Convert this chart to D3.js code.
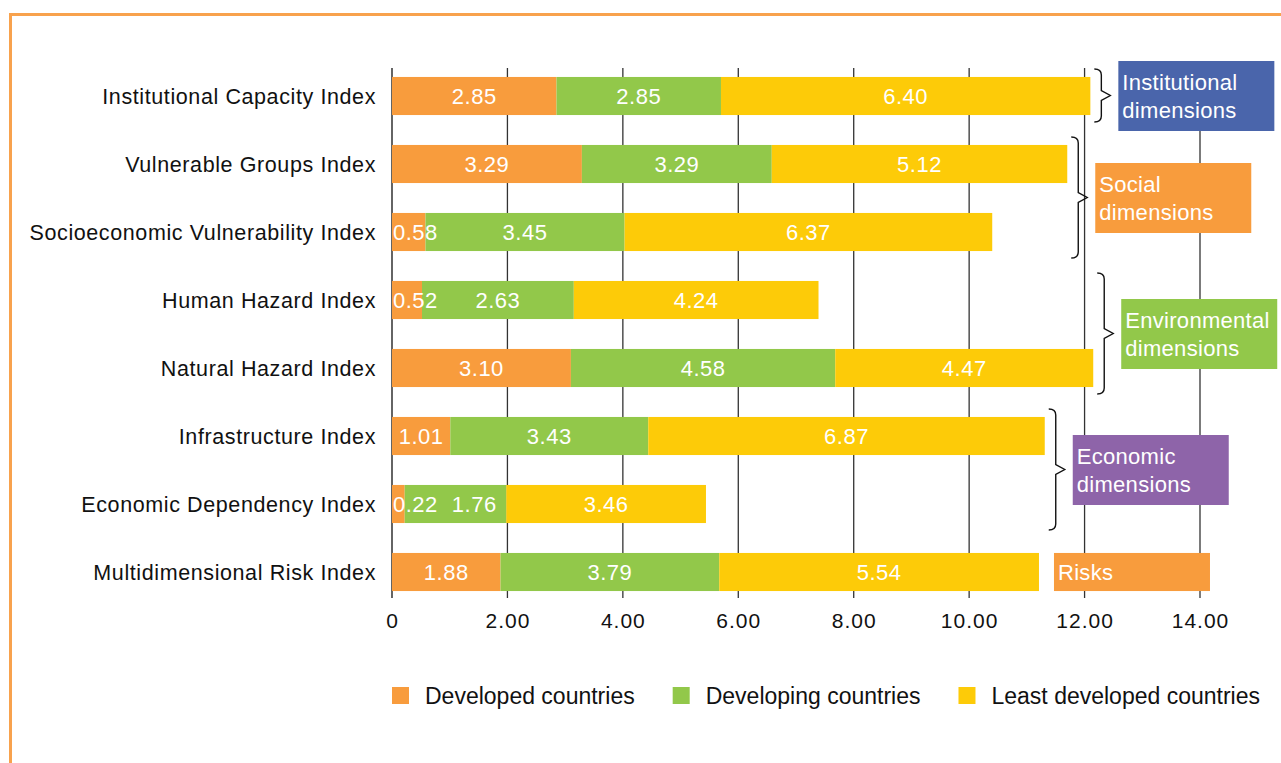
<!DOCTYPE html>
<html>
<head>
<meta charset="utf-8">
<script src="https://cdn.jsdelivr.net/npm/d3@7"></script>
<style>
  html, body { margin: 0; padding: 0; background: #fff; }
  svg { display: block; font-family: "Liberation Sans", Arial, Helvetica, sans-serif; }
</style>
</head>
<body>
<svg id="chart" width="1281" height="763"></svg>
<script>
// Index names, top to bottom
const categories = [
  "Institutional Capacity Index",
  "Vulnerable Groups Index",
  "Socioeconomic Vulnerability Index",
  "Human Hazard Index",
  "Natural Hazard Index",
  "Infrastructure Index",
  "Economic Dependency Index",
  "Multidimensional Risk Index"
];

// Stacked segment values per country group
const developed      = [2.85, 3.29, 0.58, 0.52, 3.10, 1.01, 0.22, 1.88];
const developing     = [2.85, 3.29, 3.45, 2.63, 4.58, 3.43, 1.76, 3.79];
const leastDeveloped = [6.40, 5.12, 6.37, 4.24, 4.47, 6.87, 3.46, 5.54];

const seriesNames  = ["Developed countries", "Developing countries", "Least developed countries"];
const seriesColors = ["#F89C3D", "#92C84A", "#FDCB08"];

const xTickValues = [0, 2, 4, 6, 8, 10, 12, 14];

// Dimension groupings shown with braces on the right
const groupLabels = [
  ["Institutional", "dimensions"],
  ["Social", "dimensions"],
  ["Environmental", "dimensions"],
  ["Economic", "dimensions"]
];
const groupRows   = [[0, 0], [1, 2], [3, 4], [5, 6]];
const groupColors = ["#4A65AB", "#F89C3D", "#92C84A", "#8E64A9"];
const riskLabel = "Risks";

const svg = d3.select("#chart");

// Frame lines
svg.append("line").attr("x1", 9).attr("x2", 1281).attr("y1", 14.5).attr("y2", 14.5)
  .attr("stroke", "#F8A24D").attr("stroke-width", 3);
svg.append("line").attr("x1", 10.5).attr("x2", 10.5).attr("y1", 13).attr("y2", 763)
  .attr("stroke", "#F8A24D").attr("stroke-width", 3);

const x = d3.scaleLinear().domain([0, 14]).range([392, 1200]);
const y = d3.scaleBand().domain(d3.range(categories.length))
  .range([62, 606]).paddingInner(0.44).paddingOuter(0.22);

const rows = categories.map((c, i) => {
  const vals = [developed[i], developing[i], leastDeveloped[i]];
  let acc = 0;
  const segs = vals.map((v, k) => {
    const s = { row: i, k, v, x0: acc, x1: acc + v };
    acc += v;
    return s;
  });
  return { name: c, segs, total: acc };
});

// Gridlines and ticks
const gridTop = 68, gridBottom = 598;
svg.append("g").selectAll("line").data(xTickValues).join("line")
  .attr("x1", d => x(d)).attr("x2", d => x(d))
  .attr("y1", gridTop).attr("y2", gridBottom)
  .attr("stroke", d => d === 0 ? "#111" : "#333")
  .attr("stroke-width", 1.3);

const xAxis = d3.axisBottom(x).tickValues(xTickValues)
  .tickFormat(d => d === 0 ? "0" : d3.format(".2f")(d)).tickSize(0).tickPadding(0);
const axisG = svg.append("g").attr("transform", `translate(0,${gridBottom})`).call(xAxis);
axisG.select(".domain").remove();
axisG.selectAll("text")
  .attr("dy", null).attr("y", 30)
  .attr("fill", "#111")
  .style("font-size", "21px").style("letter-spacing", "1px")
  .style("font-family", "'Liberation Sans', Arial, sans-serif");

// Bars
const barG = svg.append("g");
rows.forEach(r => {
  barG.selectAll(null).data(r.segs).join("rect")
    .attr("x", d => x(d.x0)).attr("width", d => x(d.x1) - x(d.x0))
    .attr("y", y(r.segs[0].row)).attr("height", y.bandwidth())
    .attr("fill", d => seriesColors[d.k]);
});

// Value labels: centred in each segment, nudged right when a segment is too narrow
const labelG = svg.append("g");
rows.forEach(r => {
  let prevEnd = -Infinity;
  r.segs.forEach(s => {
    const t = labelG.append("text")
      .attr("fill", "#fff")
      .style("font-size", "22px").style("letter-spacing", "0.5px")
      .attr("y", y(s.row) + y.bandwidth() / 2 + 8)
      .text(s.v.toFixed(2));
    const w = t.node().getComputedTextLength();
    const cx = (x(s.x0) + x(s.x1)) / 2;
    let left = cx - w / 2;
    left = Math.max(left, x(s.x0) + 1, prevEnd + 14);
    t.attr("x", left);
    prevEnd = left + w;
  });
});

// Category labels
svg.append("g").selectAll("text").data(rows).join("text")
  .attr("x", 376).attr("y", (d, i) => y(i) + y.bandwidth() / 2 + 8)
  .attr("text-anchor", "end").attr("fill", "#111")
  .style("font-size", "21.5px").style("letter-spacing", "0.6px")
  .text(d => d.name);

// Braces and dimension boxes
function bracePath(xl, y0, y1) {
  const sp = xl + 7, tip = xl + 16, mid = (y0 + y1) / 2;
  return `M${xl},${y0} Q${sp},${y0} ${sp},${y0 + 6} L${sp},${mid - 5} L${tip},${mid} ` +
         `L${sp},${mid + 5} L${sp},${y1 - 6} Q${sp},${y1} ${xl},${y1}`;
}
const annG = svg.append("g");
groupRows.forEach((gr, gi) => {
  const maxTotal = d3.max(d3.range(gr[0], gr[1] + 1), i => rows[i].total);
  const xl = x(maxTotal) + 4;
  const y0 = y(gr[0]) - 8, y1 = y(gr[1]) + y.bandwidth() + 7;
  annG.append("path").attr("d", bracePath(xl, y0, y1))
    .attr("fill", "none").attr("stroke", "#111").attr("stroke-width", 1.4);
  const cy = (y(gr[0]) + y(gr[1]) + y.bandwidth()) / 2;
  const bx = xl + 24, by = cy - 35;
  annG.append("rect").attr("x", bx).attr("y", by).attr("width", 156).attr("height", 70)
    .attr("fill", groupColors[gi]);
  groupLabels[gi].forEach((line, li) => {
    annG.append("text").attr("x", bx + 4).attr("y", by + 29 + li * 28)
      .attr("fill", "#fff").style("font-size", "22px").style("letter-spacing", "0.3px")
      .text(line);
  });
});

// Risks box beside the composite index
const lastRow = rows.length - 1;
const rx = x(rows[lastRow].total) + 15;
annG.append("rect").attr("x", rx).attr("y", y(lastRow)).attr("width", 156)
  .attr("height", y.bandwidth()).attr("fill", "#F89C3D");
annG.append("text").attr("x", rx + 4).attr("y", y(lastRow) + y.bandwidth() / 2 + 8)
  .attr("fill", "#fff").style("font-size", "22px").style("letter-spacing", "0.3px")
  .text(riskLabel);

// Legend
const legG = svg.append("g");
let lx = 392;
seriesNames.forEach((n, i) => {
  legG.append("rect").attr("x", lx).attr("y", 687).attr("width", 17).attr("height", 17)
    .attr("fill", seriesColors[i]);
  const t = legG.append("text").attr("x", lx + 33).attr("y", 704)
    .attr("fill", "#111").style("font-size", "23px").text(n);
  lx = lx + 33 + t.node().getComputedTextLength() + 38;
});
</script>
</body>
</html>
